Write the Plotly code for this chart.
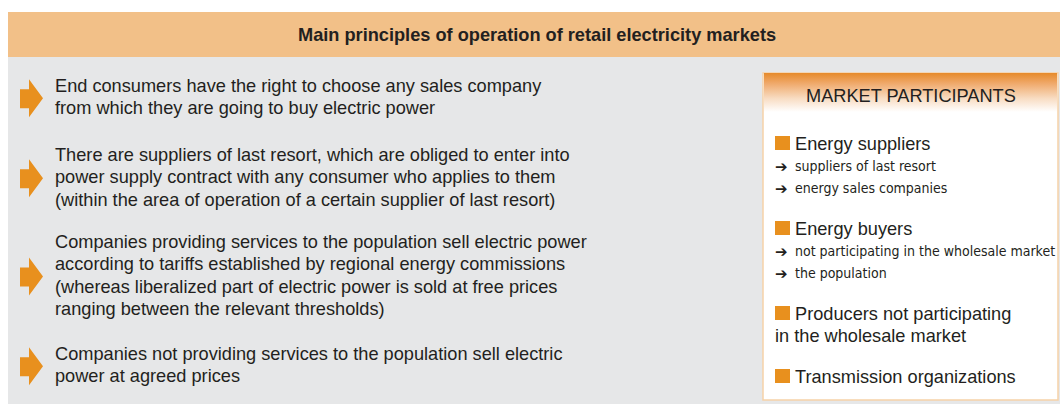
import plotly.graph_objects as go

# text content
title = "Main principles of operation of retail electricity markets"
principles = [
    ["End consumers have the right to choose any sales company",
     "from which they are going to buy electric power"],
    ["There are suppliers of last resort, which are obliged to enter into",
     "power supply contract with any consumer who applies to them",
     "(within the area of operation of a certain supplier of last resort)"],
    ["Companies providing services to the population sell electric power",
     "according to tariffs established by regional energy commissions",
     "(whereas liberalized part of electric power is sold at free prices",
     "ranging between the relevant thresholds)"],
    ["Companies not providing services to the population sell electric",
     "power at agreed prices"],
]
box_title = "MARKET PARTICIPANTS"
participants = [
    ["Energy suppliers"],
    ["Energy buyers"],
    ["Producers not participating", "in the wholesale market"],
    ["Transmission organizations"],
]
participant_subs = [
    ["suppliers of last resort", "energy sales companies"],
    ["not participating in the wholesale market", "the population"],
    [],
    [],
]

ORANGE = "#E8901E"
TEXT = "#231F20"
FONT = "Liberation Sans, Arial, sans-serif"
NARROW = "Liberation Sans Narrow, DejaVu Sans Condensed, sans-serif"
SIZE = 18.2

W, H = 1060, 405
fig = go.Figure()
shapes = []
ann = []

# backgrounds
shapes.append(dict(type="rect", x0=8, x1=W, y0=57, y1=404, fillcolor="#E6E7E8", line_width=0, layer="below"))
shapes.append(dict(type="rect", x0=8, x1=W, y0=12, y1=57, fillcolor="#F2C088", line_width=0, layer="below"))
ann.append(dict(x=537, y=35, text="<b>" + title + "</b>", showarrow=False,
                font=dict(family=FONT, size=SIZE, color=TEXT), xanchor="center", yanchor="middle"))

# left column
starts = [86, 155, 242, 354]
step = 22.3
for lines, y0 in zip(principles, starts):
    for i, line in enumerate(lines):
        ann.append(dict(x=53, y=y0 + i * step, text=line, showarrow=False, xanchor="left", yanchor="middle",
                        font=dict(family=FONT, size=SIZE, color=TEXT)))
    yc = y0 + (len(lines) - 1) * step / 2 + 1
    path = (f"M 20 {yc-9} L 29 {yc-9} L 29 {yc-19} L 43 {yc} L 29 {yc+19} "
            f"L 29 {yc+10} L 20 {yc+10} Z")
    shapes.append(dict(type="path", path=path, fillcolor=ORANGE, line_width=0))

# right box
bx0, bx1, by0, by1 = 763, 1058, 73, 400
shapes.append(dict(type="rect", x0=bx0, x1=bx1, y0=by0, y1=by1, fillcolor="white",
                   line=dict(color="#F6D2A8", width=1.5), layer="below"))
fig.add_trace(go.Scatter(
    x=[bx0 + 1, bx1 - 1, bx1 - 1, bx0 + 1, bx0 + 1], y=[by0, by0, 112, 112, by0],
    mode="lines", fill="toself", line=dict(width=0), hoverinfo="skip", showlegend=False,
    fillgradient=dict(type="vertical",
                      colorscale=[[0, "#FFFFFF"], [0.35, "#F8DCC2"], [0.75, "#EFA767"], [1, "#E68A2A"]]),
))
ann.append(dict(x=(bx0 + bx1) / 2, y=96, text=box_title, showarrow=False, xanchor="center", yanchor="middle",
                font=dict(family=FONT, size=SIZE, color=TEXT)))

y = 144
for heads, subs in zip(participants, participant_subs):
    shapes.append(dict(type="rect", x0=775, x1=790, y0=y - 8, y1=y + 6, fillcolor=ORANGE, line_width=0))
    for i, line in enumerate(heads):
        ann.append(dict(x=793 if i == 0 else 773, y=y, text=line, showarrow=False, xanchor="left",
                        yanchor="middle", font=dict(family=FONT, size=SIZE, color=TEXT)))
        y += 22
    for line in subs:
        ann.append(dict(x=773, y=y + 1, text="➔", showarrow=False, xanchor="left", yanchor="middle",
                        font=dict(family="DejaVu Sans", size=15, color=TEXT)))
        ann.append(dict(x=793, y=y, text=line, showarrow=False, xanchor="left", yanchor="middle",
                        font=dict(family=NARROW, size=14, color=TEXT)))
        y += 22
    y += 19

fig.update_layout(
    width=W, height=H, margin=dict(l=0, r=0, t=0, b=0),
    paper_bgcolor="white", plot_bgcolor="white",
    xaxis=dict(range=[0, W], visible=False, fixedrange=True),
    yaxis=dict(range=[H, 0], visible=False, fixedrange=True),
    shapes=shapes, annotations=ann, showlegend=False,
)
# drop the page margin so the figure sits at the window's top-left corner
fig.write_html("out.html", config={"displayModeBar": False},
               post_script="document.body.style.margin='0';document.body.style.overflow='hidden';")
